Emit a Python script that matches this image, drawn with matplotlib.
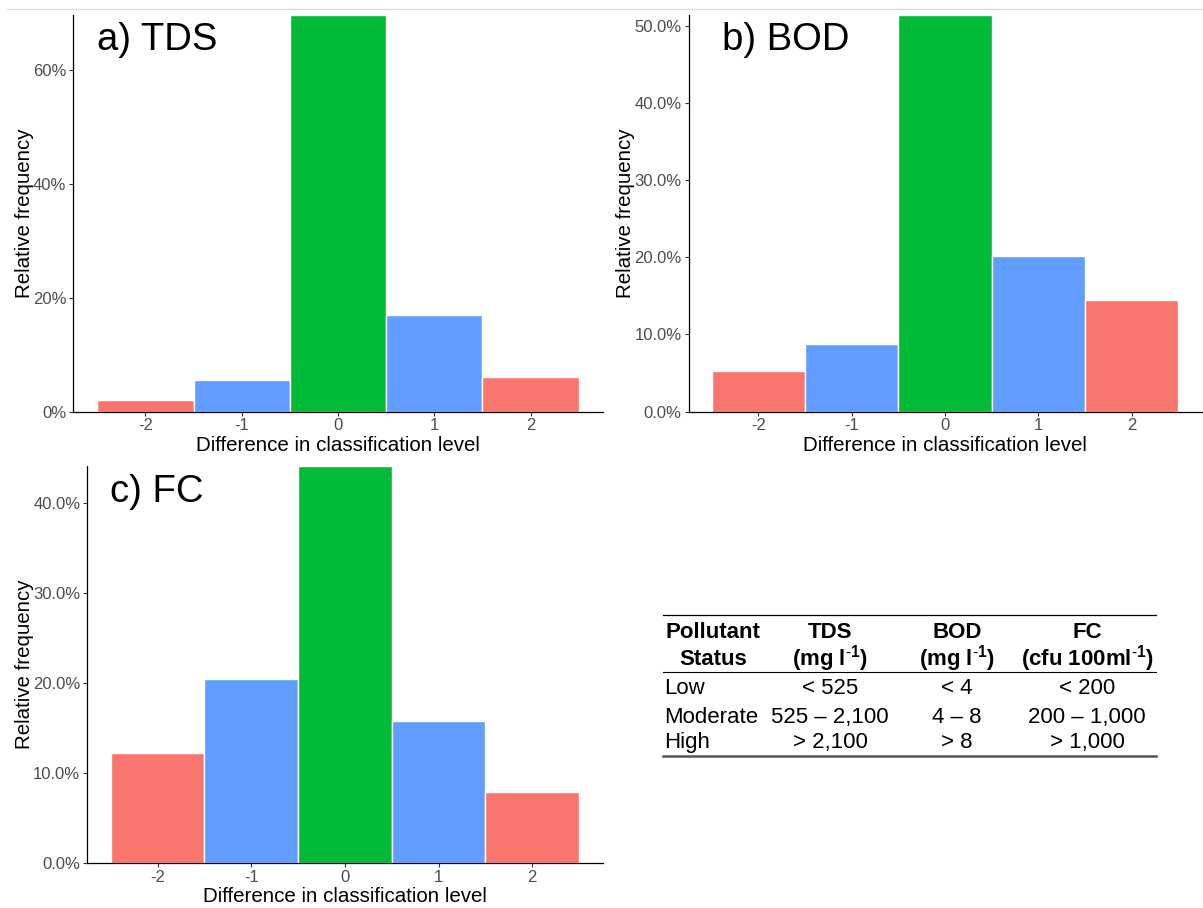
import matplotlib
matplotlib.use("Agg")
import matplotlib.pyplot as plt
from matplotlib.lines import Line2D
from matplotlib.ticker import FuncFormatter

plt.rcParams['font.family'] = ['Liberation Sans', 'DejaVu Sans']
plt.rcParams['mathtext.fontset'] = 'custom'
plt.rcParams['mathtext.rm'] = 'Liberation Sans'
plt.rcParams['mathtext.it'] = 'Liberation Sans:italic'
plt.rcParams['mathtext.bf'] = 'Liberation Sans:bold'

# ---------------- data ----------------
levels = [-2, -1, 0, 1, 2]
tds_freq = [0.020, 0.056, 0.697, 0.169, 0.061]
bod_freq = [0.053, 0.087, 0.514, 0.201, 0.145]
fc_freq = [0.122, 0.204, 0.441, 0.157, 0.079]
bar_colors = ['#F8766D', '#619CFF', '#00BA38', '#619CFF', '#F8766D']

tds_ticks = [0.0, 0.2, 0.4, 0.6]
bod_ticks = [0.0, 0.1, 0.2, 0.3, 0.4, 0.5]
fc_ticks = [0.0, 0.1, 0.2, 0.3, 0.4]

panel_titles = ['a) TDS', 'b) BOD', 'c) FC']

table_header1 = ['Pollutant', 'TDS', 'BOD', 'FC']
table_header2 = ['Status', r'(mg l$^{\mathbf{\text{-}1}}$)', r'(mg l$^{\mathbf{\text{-}1}}$)',
                 r'(cfu 100ml$^{\mathbf{\text{-}1}}$)']
table_rows = [
    ['Low', '< 525', '< 4', '< 200'],
    ['Moderate', '525 – 2,100', '4 – 8', '200 – 1,000'],
    ['High', '> 2,100', '> 8', '> 1,000'],
]

W, H = 1203, 908
fig = plt.figure(figsize=(W / 100, H / 100), dpi=100)


def px_axes(left, right, top, bottom):
    return fig.add_axes([left / W, 1 - bottom / H, (right - left) / W, (bottom - top) / H])


def style(ax, vals, ticks, fmt):
    ax.bar(levels, vals, width=1.0, color=bar_colors, edgecolor='white', linewidth=1.0)
    ax.set_xlim(-2.75, 2.75)
    ax.set_ylim(0, max(vals))
    ax.set_xticks(levels)
    ax.set_xticklabels([str(v) for v in levels])
    ax.set_yticks(ticks)
    ax.yaxis.set_major_formatter(FuncFormatter(fmt))
    for s in ['top', 'right']:
        ax.spines[s].set_visible(False)
    for s in ['left', 'bottom']:
        ax.spines[s].set_color('black')
        ax.spines[s].set_linewidth(0.9)
    ax.tick_params(axis='both', length=3, width=0.8, color='#333333',
                   labelcolor='#4D4D4D', labelsize=12, pad=2)
    ax.set_xlabel('Difference in classification level', fontsize=14.8, labelpad=2, color='black')
    ax.set_ylabel('Relative frequency', fontsize=14.8, labelpad=-0.5, color='black')


ax_a = px_axes(73.3, 602.7, 15, 411.5)
style(ax_a, tds_freq, tds_ticks, lambda v, p: f'{v*100:.0f}%')
ax_b = px_axes(688.5, 1201.5, 15, 411.5)
style(ax_b, bod_freq, bod_ticks, lambda v, p: f'{v*100:.1f}%')
ax_c = px_axes(87.3, 602.5, 466, 862.7)
style(ax_c, fc_freq, fc_ticks, lambda v, p: f'{v*100:.1f}%')

# panel titles
for (x, y), t in zip([(96.7, 50), (721.7, 50), (110, 501.7)], panel_titles):
    fig.text(x / W, 1 - y / H, t, fontsize=27.5, ha='left', va='baseline', color='black')

# top border line of the screenshot
fig.add_artist(Line2D([7 / W, 1.0], [1 - 9 / H, 1 - 9 / H], color='#DDDDDD', lw=1.0))

# ---------------- table ----------------
col_x = [713, 830, 957, 1087]
tfs = 16
for i, (h1, h2) in enumerate(zip(table_header1, table_header2)):
    fig.text(col_x[i] / W, 1 - 638 / H, h1, fontsize=tfs, fontweight='bold',
             ha='center', va='baseline')
    fig.text(col_x[i] / W, 1 - 665 / H, h2, fontsize=tfs, fontweight='bold',
             ha='center', va='baseline')
row_y = [694, 723, 748]
for r, y in zip(table_rows, row_y):
    fig.text(664 / W, 1 - y / H, r[0], fontsize=tfs, ha='left', va='baseline')
    for j in range(1, 4):
        fig.text(col_x[j] / W, 1 - y / H, r[j], fontsize=tfs, ha='center', va='baseline')

x0, x1 = 663 / W, 1156 / W
fig.add_artist(Line2D([x0, x1], [1 - 615 / H] * 2, color='black', lw=0.9))
fig.add_artist(Line2D([x0, x1], [1 - 672 / H] * 2, color='black', lw=0.8))
fig.add_artist(Line2D([x0, x1], [1 - 755.5 / H] * 2, color='#555555', lw=1.8))

fig.savefig('out.png', dpi=100, facecolor='white')
